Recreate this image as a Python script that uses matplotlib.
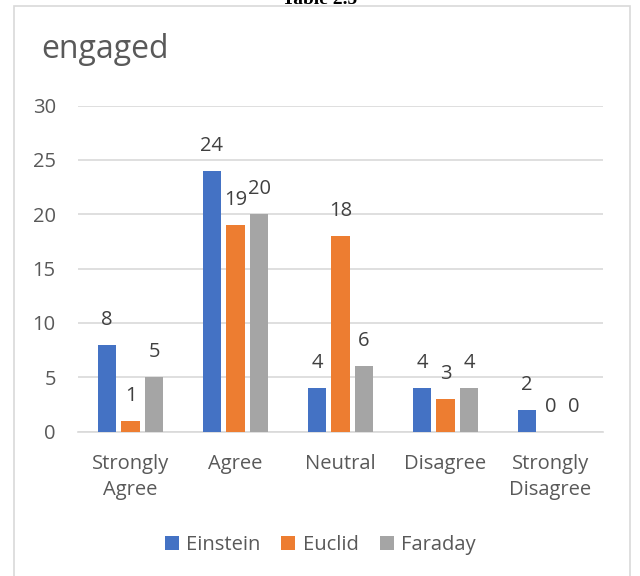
import matplotlib.pyplot as plt
import numpy as np
from matplotlib.patches import Rectangle

plt.rcParams['font.family'] = ['Open Sans', 'DejaVu Sans']

categories = ["Strongly\nAgree", "Agree", "Neutral", "Disagree", "Strongly\nDisagree"]
series = ["Einstein", "Euclid", "Faraday"]
einstein = [8, 24, 4, 4, 2]
euclid = [1, 19, 18, 3, 0]
faraday = [5, 20, 6, 4, 0]
colors = ["#4472C4", "#ED7D31", "#A5A5A5"]
yticks = [0, 5, 10, 15, 20, 25, 30]

fig = plt.figure(figsize=(6.4, 5.76), dpi=100)
ax = fig.add_axes([78 / 640, 1 - 431.5 / 576, 525 / 640, (431.5 - 105.7) / 576])

# chart frame, open at the bottom
fig.patches.append(Rectangle((14 / 640, -0.05), 616 / 640, 1.05 - 6 / 576,
                             transform=fig.transFigure, fill=False,
                             edgecolor="#D9D9D9", linewidth=1.2))

x = np.arange(len(categories))
width = 0.176
step = 0.224
for i, (name, vals) in enumerate(zip(series, [einstein, euclid, faraday])):
    pos = x + (i - 1) * step
    bars = ax.bar(pos, vals, width, color=colors[i], label=name, zorder=3)
    for b, v in zip(bars, vals):
        ax.annotate(str(v), (b.get_x() + b.get_width() / 2, v),
                    xytext=(0, 18), textcoords="offset points",
                    ha="center", va="center", fontsize=14.5, color="#404040")

ax.set_xlim(-0.5, len(categories) - 0.5)
ax.set_ylim(0, 30)
ax.set_yticks(yticks)
ax.set_xticks(x)
ax.set_xticklabels(categories, linespacing=1.45)
ax.tick_params(axis="both", length=0, labelsize=14.5, labelcolor="#595959")
ax.tick_params(axis="y", pad=16)
ax.tick_params(axis="x", pad=16)
ax.yaxis.grid(True, color="#D9D9D9", linewidth=1.2, zorder=0)
for side in ["top", "right", "left"]:
    ax.spines[side].set_visible(False)
ax.spines["bottom"].set_color("#D9D9D9")
ax.spines["bottom"].set_linewidth(1.2)
ax.set_axisbelow(True)

fig.text(41 / 640, 1 - 50 / 576, "engaged", fontsize=23, color="#595959",
         ha="left", va="center")
fig.text(0.5, 1 - 4 / 576, "Table 2.5", family="Liberation Serif",
         fontweight="bold", fontsize=14, ha="center", va="baseline")

fig.legend(loc="center", bbox_to_anchor=(0.5, 1 - 545 / 576), ncol=3,
           frameon=False, fontsize=14.5, labelcolor="#595959",
           handlelength=0.7, handleheight=0.7, handletextpad=0.35,
           columnspacing=1.05)

fig.savefig("out.png", dpi=100)
